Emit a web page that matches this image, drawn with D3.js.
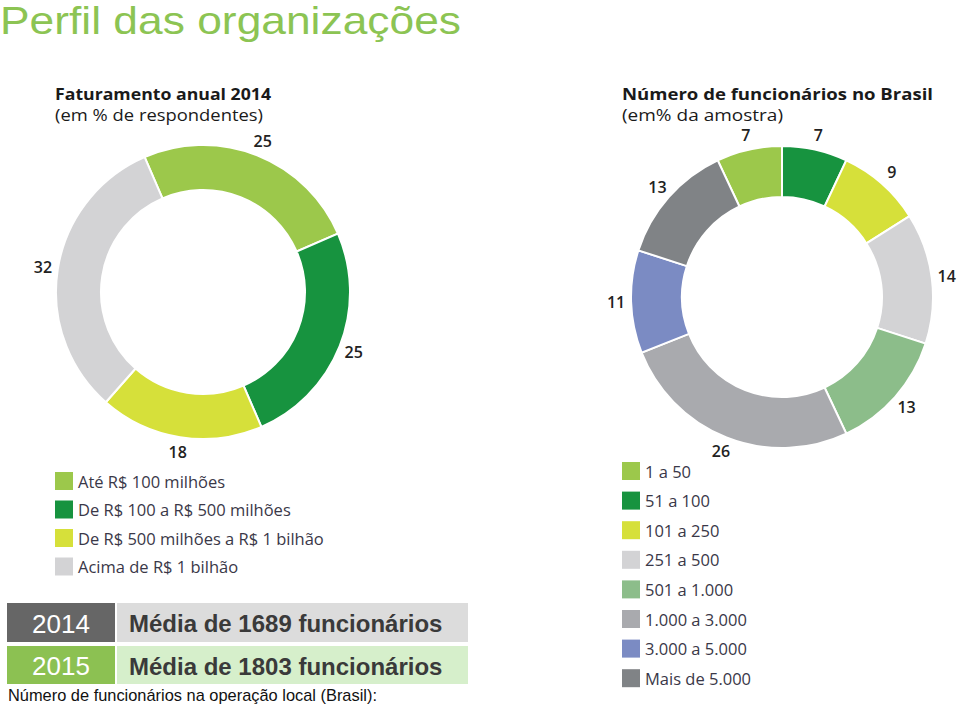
<!DOCTYPE html>
<html><head><meta charset="utf-8">
<script src="https://cdn.jsdelivr.net/npm/d3@7"></script>
<style>
body{margin:0;background:#fff;}
svg{display:block;}
</style></head>
<body>
<svg id="c" width="960" height="707"></svg>
<script>
// ---- data ----
const revenueCategories = ["Até R$ 100 milhões","De R$ 100 a R$ 500 milhões","De R$ 500 milhões a R$ 1 bilhão","Acima de R$ 1 bilhão"];
const revenueValues = [25, 25, 18, 32];
const revenueColors = ["#9cc84b","#17933f","#d6e03a","#d3d3d5"];

const staffCategories = ["1 a 50","51 a 100","101 a 250","251 a 500","501 a 1.000","1.000 a 3.000","3.000 a 5.000","Mais de 5.000"];
const staffValues = [7, 7, 9, 14, 13, 26, 11, 13];
const staffColors = ["#9cc84b","#17933f","#d6e03a","#d3d3d5","#8cbd8a","#a9aaae","#7b8bc3","#808386"];

const tableYears = ["2014","2015"];
const tableTexts = ["Média de 1689 funcionários","Média de 1803 funcionários"];

const svg = d3.select("#c");
const deg = Math.PI/180;

// title
svg.append("text").attr("x",0).attr("y",34)
  .attr("font-family","Liberation Sans, Arial, sans-serif")
  .attr("font-size",39).attr("textLength",461).attr("lengthAdjust","spacingAndGlyphs")
  .attr("fill","#8cc453").text("Perfil das organizações");

function donut(cfg){
  const g = svg.append("g").attr("transform",`translate(${cfg.cx},${cfg.cy})`);
  const pie = d3.pie().sort(null).value(d=>d)
    .startAngle(cfg.start*deg).endAngle(cfg.start*deg + 2*Math.PI);
  const arcs = pie(cfg.values);
  const arc = d3.arc().innerRadius(cfg.ri).outerRadius(cfg.ro);
  const lab = d3.arc().innerRadius(cfg.rl).outerRadius(cfg.rl);
  g.selectAll("path").data(arcs).join("path")
    .attr("d",arc).attr("fill",(d,i)=>cfg.colors[i])
    .attr("stroke","#fff").attr("stroke-width",2);
  g.selectAll("text.lbl").data(arcs).join("text").attr("class","lbl")
    .attr("transform",d=>`translate(${lab.centroid(d)})`)
    .attr("text-anchor","middle").attr("dominant-baseline","central")
    .attr("font-family","Open Sans, sans-serif").attr("font-weight",600)
    .attr("font-size",16).attr("fill","#222")
    .text(d=>d.data);
}

function titles(x, t1, w1, t2, w2){
  svg.append("text").attr("x",x).attr("y",100)
    .attr("font-family","Open Sans, sans-serif").attr("font-weight",700)
    .attr("font-size",16.5).attr("textLength",w1).attr("lengthAdjust","spacingAndGlyphs")
    .attr("fill","#1a1a1a").text(t1);
  svg.append("text").attr("x",x).attr("y",121)
    .attr("font-family","Open Sans, sans-serif")
    .attr("font-size",16.5).attr("textLength",w2).attr("lengthAdjust","spacingAndGlyphs")
    .attr("fill","#1a1a1a").text(t2);
}

function legend(x, y0, step, cats, colors){
  const g = svg.append("g");
  cats.forEach((c,i)=>{
    const yc = y0 + i*step;
    g.append("rect").attr("x",x).attr("y",yc-9).attr("width",18).attr("height",18).attr("fill",colors[i]);
    g.append("text").attr("x",x+23).attr("y",yc).attr("dominant-baseline","central")
      .attr("font-family","Open Sans, sans-serif").attr("font-size",16.5)
      .attr("fill","#3a3848").text(c);
  });
}

titles(55, "Faturamento anual 2014", 216, "(em % de respondentes)", 208);
titles(622, "Número de funcionários no Brasil", 311, "(em% da amostra)", 161);

donut({cx:203, cy:292, ro:147, ri:102, rl:162, start:-23.4, values:revenueValues, colors:revenueColors});
donut({cx:782, cy:297, ro:151, ri:100, rl:166, start:-25.2, values:staffValues, colors:staffColors});

legend(55, 481, 28.5, revenueCategories, revenueColors);
legend(622, 471, 29.6, staffCategories, staffColors);

// table
const rowY = [603, 646], rowH = [39, 38];
const yearFill = ["#666666","#8cc152"], textFill = ["#dcdcdc","#d6efcb"];
tableYears.forEach((yr,i)=>{
  svg.append("rect").attr("x",7).attr("y",rowY[i]).attr("width",108).attr("height",rowH[i]).attr("fill",yearFill[i]);
  svg.append("rect").attr("x",117).attr("y",rowY[i]).attr("width",351).attr("height",rowH[i]).attr("fill",textFill[i]);
  svg.append("text").attr("x",61).attr("y",rowY[i]+rowH[i]/2+1).attr("text-anchor","middle")
    .attr("dominant-baseline","central").attr("font-family","Liberation Sans, Arial, sans-serif")
    .attr("font-size",26).attr("fill","#ffffff").text(yr);
  svg.append("text").attr("x",129).attr("y",rowY[i]+rowH[i]/2+1)
    .attr("dominant-baseline","central").attr("font-family","Liberation Sans, Arial, sans-serif")
    .attr("font-weight",700).attr("font-size",24).attr("fill","#3a3a3a").text(tableTexts[i]);
});
svg.append("text").attr("x",8).attr("y",701)
  .attr("font-family","Liberation Sans, Arial, sans-serif").attr("font-size",16.4)
  .attr("fill","#111").text("Número de funcionários na operação local (Brasil):");
</script>
</body></html>
